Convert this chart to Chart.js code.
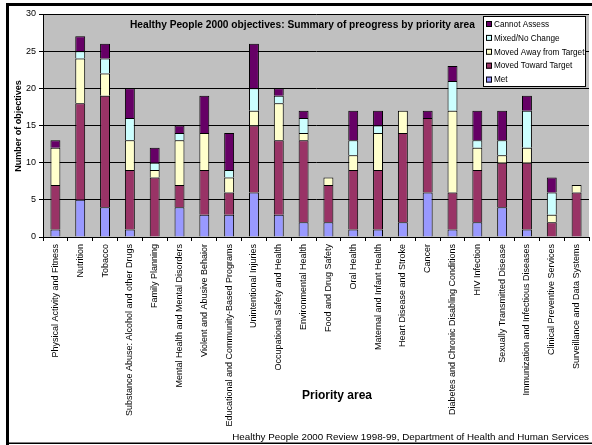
<!DOCTYPE html>
<html>
<head>
<meta charset="utf-8">
<script src="https://cdn.jsdelivr.net/npm/chart.js@4"></script>
<style>
  html, body { margin: 0; padding: 0; background: #fff; }
  #wrap { width: 592px; height: 445px; }
</style>
</head>
<body>
<div id="wrap"><canvas id="progressBar"></canvas></div>
<script>
// Priority areas
const areas = [
  'Physical Activity and Fitness', 'Nutrition', 'Tobacco',
  'Substance Abuse: Alcohol and other Drugs', 'Family Planning',
  'Mental Health and Mental Disorders', 'Violent and Abusive Behaior',
  'Educational and Community-Based Programs', 'Unintentional Injuries',
  'Occupational Safety and Health', 'Environmental Health', 'Food and Drug Safety',
  'Oral Health', 'Maternal and Infant Health', 'Heart Disease and Stroke', 'Cancer',
  'Diabetes and Chronic Disabling Conditions', 'HIV Infection',
  'Sexually Transmitted Disease', 'Immunization and Infectious Diseases',
  'Clinical Preventive Services', 'Surveillance and Data Systems'
];

// objectives per status
const met          = [1, 5, 4, 1, 0, 4, 3, 3, 6, 3, 2, 2, 1, 1, 2, 6, 1, 2, 4, 1, 0, 0];
const movedToward  = [6, 13, 15, 8, 8, 3, 6, 3, 9, 10, 11, 5, 8, 8, 12, 10, 5, 7, 6, 9, 2, 6];
const movedAway    = [5, 6, 3, 4, 1, 6, 5, 2, 2, 5, 1, 1, 2, 5, 3, 0, 11, 3, 1, 2, 1, 1];
const mixed        = [0, 1, 2, 3, 1, 1, 0, 1, 3, 1, 2, 0, 2, 1, 0, 0, 4, 1, 2, 5, 3, 0];
const cannotAssess = [1, 2, 2, 4, 2, 1, 5, 5, 6, 1, 1, 0, 4, 2, 0, 1, 2, 4, 4, 2, 2, 0];

const yTicks = [0, 5, 10, 15, 20, 25, 30];

const FONT = 'Liberation Sans, Arial, sans-serif';

// frame, plot background, inner title, legend box and axis titles
const decor = {
  id: 'decor',
  beforeDraw(chart) {
    const c = chart.ctx;
    const a = chart.chartArea;
    c.save();
    c.fillStyle = '#fff';
    c.fillRect(0, 0, chart.width, chart.height);
    c.fillStyle = '#000';
    c.fillRect(6, 3, chart.width - 6, 3);
    c.fillRect(6, 3, 3, chart.height - 3);
    c.fillRect(6, chart.height - 2.5, chart.width - 6, 1.5);
    c.fillStyle = '#c0c0c0';
    c.fillRect(a.left, a.top, a.right - a.left, a.bottom - a.top);
    c.restore();
  },
  afterDraw(chart) {
    const c = chart.ctx;
    c.save();
    c.fillStyle = '#000';
    c.textBaseline = 'middle';

    c.font = 'bold 10.2px ' + FONT;
    c.textAlign = 'left';
    c.fillText('Healthy People 2000 objectives: Summary of preogress by priority area', 130, 25);

    // y title
    c.save();
    c.translate(19, 126);
    c.rotate(-Math.PI / 2);
    c.font = 'bold 9px ' + FONT;
    c.textAlign = 'center';
    c.fillText('Number of objectives', 0, 0);
    c.restore();

    c.font = 'bold 12px ' + FONT;
    c.textAlign = 'center';
    c.fillText('Priority area', 337, 396);

    c.font = '9.8px ' + FONT;
    c.textAlign = 'right';
    c.fillText('Healthy People 2000 Review 1998-99, Department of Health and Human Services', 589, 437);

    // legend
    const lx = 483, ly = 16, lw = 102, lh = 70;
    c.fillStyle = '#fff';
    c.fillRect(lx, ly, lw, lh);
    c.strokeStyle = '#000';
    c.lineWidth = 1;
    c.strokeRect(lx + 0.5, ly + 0.5, lw, lh);
    c.font = '8.2px ' + FONT;
    c.textAlign = 'left';
    const ds = chart.data.datasets.slice().reverse();
    ds.forEach((d, i) => {
      const y = 24 + i * 13.9;
      c.fillStyle = d.backgroundColor;
      c.fillRect(486, y - 3, 6, 6);
      c.strokeRect(486.5, y - 2.5, 5, 5);
      c.fillStyle = '#000';
      c.fillText(d.label, 494, y + 0.5);
    });
    c.restore();
  }
};

function series(label, data, color) {
  return { label, data, backgroundColor: color, borderColor: '#000', borderWidth: 1,
           barPercentage: 0.4, categoryPercentage: 1.0 };
}

new Chart(document.getElementById('progressBar'), {
  type: 'bar',
  data: {
    labels: areas,
    datasets: [
      series('Met', met, '#9999ff'),
      series('Moved Toward Target', movedToward, '#993366'),
      series('Moved Away from Target', movedAway, '#ffffcc'),
      series('Mixed/No Change', mixed, '#ccffff'),
      series('Cannot Assess', cannotAssess, '#660066')
    ]
  },
  options: {
    responsive: true,
    maintainAspectRatio: false,
    animation: false,
    layout: { padding: { left: 8, top: 14, right: 3, bottom: 0 } },
    plugins: { legend: { display: false }, tooltip: { enabled: false } },
    scales: {
      x: {
        stacked: true,
        afterFit(scale) { scale.height = 208; },
        grid: { drawOnChartArea: false, color: '#000', tickLength: 4 },
        border: { color: '#000', width: 1 },
        ticks: {
          autoSkip: false, maxRotation: 90, minRotation: 90, padding: 3,
          color: '#000', font: { family: FONT, size: 9 }
        }
      },
      y: {
        stacked: true,
        min: 0, max: 30,
        afterFit(scale) { scale.width = 35; },
        afterBuildTicks(scale) { scale.ticks = yTicks.map(v => ({ value: v })); },
        grid: { color: '#000', tickLength: 4 },
        border: { color: '#000', width: 1 },
        ticks: { padding: 3, color: '#000', font: { family: FONT, size: 9 } }
      }
    }
  },
  plugins: [decor]
});
</script>
</body>
</html>
